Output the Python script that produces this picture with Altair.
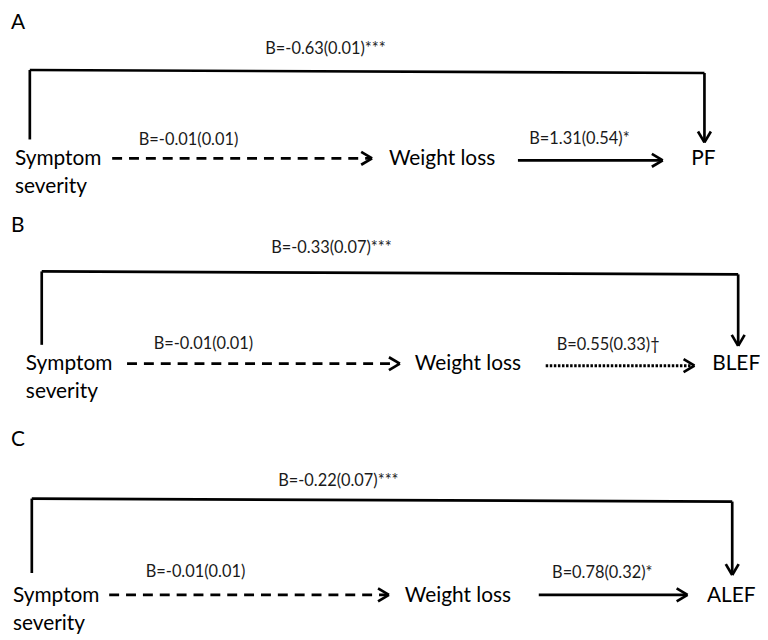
import altair as alt
import pandas as pd

# ---- content ----
panels = ["A", "B", "C"]
predictor = ["Symptom", "severity"]
mediator = "Weight loss"
outcomes = ["PF", "BLEF", "ALEF"]
direct_effects = ["B=-0.63(0.01)***", "B=-0.33(0.07)***", "B=-0.22(0.07)***"]
a_paths = ["B=-0.01(0.01)", "B=-0.01(0.01)", "B=-0.01(0.01)"]
b_paths = ["B=1.31(0.54)*", "B=0.55(0.33)\u2020", "B=0.78(0.32)*"]
a_styles = ["dashed", "dashed", "dashed"]
b_styles = ["solid", "dotted", "solid"]

# ---- layout of each diagram (page pixel units) ----
layout = {
    "A": dict(letter=(11, 21), top=(30, 68, 710, 71), left_bottom=138, tip=141,
              sym=(15, 158, 186), a_arrow=(113, 375, 157), wl=(392, 158),
              b_arrow=(522, 668, 159), out=(709, 158), top_lbl=(328, 47),
              a_lbl=(190, 139), b_lbl=(584, 138)),
    "B": dict(letter=(11, 225), top=(42, 271, 744, 274), left_bottom=345, tip=346,
              sym=(26, 364, 393), a_arrow=(128, 403, 364), wl=(418, 364),
              b_arrow=(550, 700, 366), out=(742, 364), top_lbl=(334, 247),
              a_lbl=(205, 344), b_lbl=(613, 345)),
    "C": dict(letter=(11, 441), top=(32, 500, 738, 503), left_bottom=575, tip=577,
              sym=(13, 598, 626), a_arrow=(110, 392, 597), wl=(408, 598),
              b_arrow=(543, 693, 597), out=(737, 598), top_lbl=(341, 482),
              a_lbl=(197, 574), b_lbl=(607, 575)),
}
HEAD_L, HEAD_W = 11, 6.5

segs, texts = [], []
for i, p in enumerate(panels):
    L = layout[p]
    x0, y0, x1, y1 = L["top"]
    # direct path: up, across, down with arrow
    segs.append(dict(x=x0, y=L["left_bottom"], x2=x0, y2=y0, style="solid"))
    segs.append(dict(x=x0, y=y0, x2=x1, y2=y1, style="solid"))
    segs.append(dict(x=x1, y=y1, x2=x1, y2=L["tip"], style="solid"))
    segs.append(dict(x=x1 - HEAD_W, y=L["tip"] - HEAD_L, x2=x1, y2=L["tip"], style="solid"))
    segs.append(dict(x=x1 + HEAD_W, y=L["tip"] - HEAD_L, x2=x1, y2=L["tip"], style="solid"))
    # a path and b path
    for (ax, bx, ay), st in ((L["a_arrow"], a_styles[i]), (L["b_arrow"], b_styles[i])):
        segs.append(dict(x=ax, y=ay, x2=bx - 2, y2=ay, style=st))
        segs.append(dict(x=bx - HEAD_L, y=ay - HEAD_W, x2=bx, y2=ay, style="solid"))
        segs.append(dict(x=bx - HEAD_L, y=ay + HEAD_W, x2=bx, y2=ay, style="solid"))

    texts.append(dict(x=L["letter"][0], y=L["letter"][1], t=p, kind="letter"))
    texts.append(dict(x=L["sym"][0], y=L["sym"][1], t=predictor[0], kind="node_l"))
    texts.append(dict(x=L["sym"][0], y=L["sym"][2], t=predictor[1], kind="node_l"))
    texts.append(dict(x=L["wl"][0], y=L["wl"][1], t=mediator, kind="node_l"))
    texts.append(dict(x=L["out"][0], y=L["out"][1], t=outcomes[i], kind="node_c"))
    texts.append(dict(x=L["top_lbl"][0], y=L["top_lbl"][1], t=direct_effects[i], kind="coef"))
    texts.append(dict(x=L["a_lbl"][0], y=L["a_lbl"][1], t=a_paths[i], kind="coef"))
    texts.append(dict(x=L["b_lbl"][0], y=L["b_lbl"][1], t=b_paths[i], kind="coef"))

seg_df = pd.DataFrame(segs)
txt_df = pd.DataFrame(texts)

W, H = 758, 630
xs = alt.Scale(domain=[8, 8 + W], nice=False, zero=False)
ys = alt.Scale(domain=[8, 8 + H], nice=False, zero=False, reverse=True)
X = lambda f: alt.X(f"{f}:Q", scale=xs, axis=None)
Y = lambda f: alt.Y(f"{f}:Q", scale=ys, axis=None)

base_seg = alt.Chart(seg_df)
dash = {"solid": [1, 0], "dashed": [10, 7], "dotted": [2.5, 1.6]}
seg_layers = []
for st, d in dash.items():
    m = dict(color="black", strokeWidth=2.7 if st != "dotted" else 3)
    if st != "solid":
        m["strokeDash"] = d
    seg_layers.append(
        base_seg.transform_filter(alt.datum.style == st)
        .mark_rule(**m)
        .encode(x=X("x"), y=Y("y"), x2="x2:Q", y2="y2:Q")
    )

base_txt = alt.Chart(txt_df)
FONT = "Lato"
letter = base_txt.transform_filter(alt.datum.kind == "letter").mark_text(
    font=FONT, fontSize=21, align="left", baseline="middle", color="black"
).encode(x=X("x"), y=Y("y"), text="t:N")
node_l = base_txt.transform_filter(alt.datum.kind == "node_l").mark_text(
    font=FONT, fontSize=21, align="left", baseline="middle", color="black"
).encode(x=X("x"), y=Y("y"), text="t:N")
node_c = base_txt.transform_filter(alt.datum.kind == "node_c").mark_text(
    font=FONT, fontSize=21, align="center", baseline="middle", color="black"
).encode(x=X("x"), y=Y("y"), text="t:N")
coef = base_txt.transform_filter(alt.datum.kind == "coef").mark_text(
    font=FONT, fontSize=16.5, align="center", baseline="middle", color="#1a1a1a"
).encode(x=X("x"), y=Y("y"), text="t:N")

chart = alt.layer(*seg_layers, letter, node_l, node_c, coef).properties(
    width=W, height=H, autosize="none", padding=0, background="white"
).configure_view(strokeOpacity=0)

chart.save("out.html", embed_options={"renderer": "svg", "actions": False})
